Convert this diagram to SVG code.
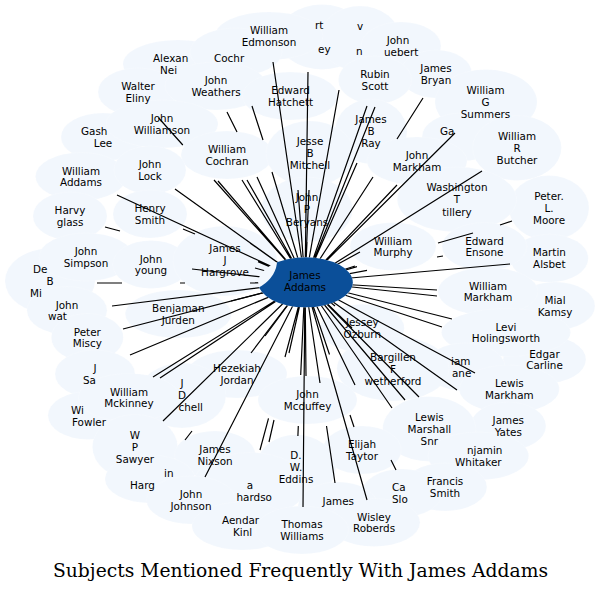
<svg xmlns="http://www.w3.org/2000/svg" width="602" height="592" viewBox="0 0 602 592">
<style>
.b{fill:#f2f7fd;stroke:#ffffff;stroke-width:0.5;stroke-opacity:0.35}
.l{font-family:"DejaVu Sans",sans-serif;font-size:10.4px;text-anchor:middle;fill:#000}
.f{font-family:"DejaVu Sans",sans-serif;font-size:10.4px;text-anchor:start;fill:#000}
.e{fill:none;stroke:#000;stroke-width:1.2}
.t{font-family:"DejaVu Serif",serif;font-size:18.67px;text-anchor:middle;fill:#000}
</style>
<defs>
<mask id="cm" maskUnits="userSpaceOnUse" x="0" y="0" width="602" height="592">
<rect x="0" y="0" width="602" height="592" fill="#fff"/>
<ellipse cx="305.5" cy="282.3" rx="47.3" ry="25" fill="#000"/>
</mask>
<mask id="notch" maskUnits="userSpaceOnUse" x="0" y="0" width="602" height="592">
<rect x="0" y="0" width="602" height="592" fill="#fff"/>
<ellipse cx="225" cy="261" rx="52" ry="35" fill="#000"/>
</mask>
</defs>
<rect width="602" height="592" fill="#ffffff"/>
<g id="backdrop">
<ellipse class="b" cx="322" cy="37" rx="44" ry="32.5"/>
<ellipse class="b" cx="360" cy="38.5" rx="40" ry="32.5"/>
<ellipse class="b" cx="269" cy="36" rx="54" ry="24"/>
<ellipse class="b" cx="401" cy="46" rx="40" ry="24"/>
<ellipse class="b" cx="178" cy="64" rx="55" ry="24"/>
<ellipse class="b" cx="236" cy="52" rx="46" ry="24"/>
<ellipse class="b" cx="436" cy="74" rx="36" ry="24"/>
<ellipse class="b" cx="138" cy="92" rx="40" ry="24"/>
<ellipse class="b" cx="216" cy="86" rx="51" ry="24"/>
<ellipse class="b" cx="375" cy="80" rx="36.6" ry="24"/>
<ellipse class="b" cx="290" cy="96" rx="47.6" ry="24"/>
<ellipse class="b" cx="486" cy="102" rx="51" ry="32.5"/>
<ellipse class="b" cx="103" cy="137" rx="42" ry="24"/>
<ellipse class="b" cx="162" cy="124" rx="56" ry="24"/>
<ellipse class="b" cx="462" cy="137" rx="40" ry="24"/>
<ellipse class="b" cx="371" cy="131.5" rx="36" ry="32.5"/>
<ellipse class="b" cx="517" cy="148" rx="44.4" ry="32.5"/>
<ellipse class="b" cx="227" cy="155" rx="46" ry="24"/>
<ellipse class="b" cx="310" cy="153.5" rx="44" ry="32.5"/>
<ellipse class="b" cx="417" cy="161" rx="50" ry="24"/>
<ellipse class="b" cx="81" cy="176.5" rx="45.5" ry="24"/>
<ellipse class="b" cx="150" cy="170" rx="36" ry="24"/>
<ellipse class="b" cx="549" cy="208" rx="40" ry="32.5"/>
<ellipse class="b" cx="457" cy="199.5" rx="59.7" ry="32.5"/>
<ellipse class="b" cx="70" cy="216" rx="37" ry="24"/>
<ellipse class="b" cx="150" cy="214" rx="37" ry="24"/>
<ellipse class="b" cx="307" cy="209.5" rx="45.5" ry="32.5"/>
<ellipse class="b" cx="549.3" cy="258.3" rx="39" ry="24"/>
<ellipse class="b" cx="484.5" cy="246.5" rx="42.4" ry="24"/>
<ellipse class="b" cx="393" cy="246.5" rx="43" ry="24"/>
<ellipse class="b" cx="50" cy="281" rx="45" ry="32.5"/>
<ellipse class="b" cx="86" cy="257" rx="47" ry="24"/>
<ellipse class="b" cx="151" cy="264.5" rx="38.3" ry="24"/>
<ellipse class="b" cx="225" cy="261" rx="52" ry="35"/>
<ellipse class="b" cx="555" cy="306" rx="40" ry="24"/>
<ellipse class="b" cx="488" cy="291.5" rx="50" ry="24"/>
<ellipse class="b" cx="67" cy="310.5" rx="40" ry="24"/>
<ellipse class="b" cx="178.3" cy="314" rx="53" ry="24"/>
<ellipse class="b" cx="87.3" cy="337.5" rx="36" ry="24"/>
<ellipse class="b" cx="544.5" cy="359.5" rx="41.4" ry="24"/>
<ellipse class="b" cx="506" cy="332.5" rx="64.5" ry="24"/>
<ellipse class="b" cx="362.3" cy="328.3" rx="42" ry="24"/>
<ellipse class="b" cx="465" cy="367" rx="40" ry="24"/>
<ellipse class="b" cx="95" cy="374" rx="40" ry="24"/>
<ellipse class="b" cx="393" cy="368.5" rx="56" ry="32.5"/>
<ellipse class="b" cx="237" cy="374" rx="50" ry="24"/>
<ellipse class="b" cx="509.3" cy="389" rx="50" ry="24"/>
<ellipse class="b" cx="88" cy="415.5" rx="40" ry="24"/>
<ellipse class="b" cx="182" cy="395.5" rx="44" ry="32.5"/>
<ellipse class="b" cx="129" cy="397.5" rx="50.6" ry="24"/>
<ellipse class="b" cx="307.5" cy="400" rx="49.5" ry="24"/>
<ellipse class="b" cx="508.3" cy="426" rx="37.6" ry="24"/>
<ellipse class="b" cx="429.3" cy="429" rx="46.6" ry="32.5"/>
<ellipse class="b" cx="135" cy="447" rx="42.6" ry="32.5"/>
<ellipse class="b" cx="478.3" cy="456" rx="50.4" ry="24"/>
<ellipse class="b" cx="362" cy="450" rx="39.3" ry="24"/>
<ellipse class="b" cx="215" cy="455" rx="40.4" ry="24"/>
<ellipse class="b" cx="150" cy="479" rx="45" ry="24"/>
<ellipse class="b" cx="296" cy="467.3" rx="40" ry="32.5"/>
<ellipse class="b" cx="250" cy="485" rx="57" ry="32.5"/>
<ellipse class="b" cx="445" cy="487" rx="41.9" ry="24"/>
<ellipse class="b" cx="402" cy="493" rx="40" ry="24"/>
<ellipse class="b" cx="191" cy="500" rx="44.5" ry="24"/>
<ellipse class="b" cx="338" cy="506" rx="40" ry="24"/>
<ellipse class="b" cx="242" cy="526" rx="50" ry="24"/>
<ellipse class="b" cx="374" cy="522.5" rx="46" ry="24"/>
<ellipse class="b" cx="302" cy="530" rx="46.6" ry="24"/>
</g>
<g id="node-william-edmonson"><text class="l"><tspan x="269" y="34">William</tspan><tspan x="269" y="45.8">Edmonson</tspan></text></g>
<g id="node-rt-ey"><text class="f" x="315" y="29">rt</text><text class="f" x="318" y="53">ey</text></g>
<g id="node-v-n"><text class="f" x="357" y="30">v</text><text class="f" x="356" y="55">n</text></g>
<g id="node-cochr"><text class="f" x="214" y="62">Cochr</text></g>
<g id="node-alexan-nei"><text class="f" x="153" y="62">Alexan</text><text class="f" x="160" y="74">Nei</text></g>
<g id="node-john-uebert"><text class="l" x="398" y="44.4">John</text><text class="f" x="384" y="56.2">uebert</text></g>
<g id="node-james-bryan"><text class="l"><tspan x="436" y="72.2">James</tspan><tspan x="436" y="84">Bryan</tspan></text></g>
<g id="node-walter-eliny"><text class="l"><tspan x="138" y="90">Walter</tspan><tspan x="138" y="102">Eliny</tspan></text></g>
<g id="node-john-weathers"><text class="l"><tspan x="216" y="84">John</tspan><tspan x="216" y="95.8">Weathers</tspan></text></g>
<g id="node-edward-hatchett"><text class="l"><tspan x="290.5" y="94">Edward</tspan><tspan x="290.5" y="105.8">Hatchett</tspan></text></g>
<g id="node-rubin-scott"><text class="l"><tspan x="375" y="78">Rubin</tspan><tspan x="375" y="90">Scott</tspan></text></g>
<g id="node-william-g-summers"><text class="l"><tspan x="485.5" y="94">William</tspan><tspan x="485.5" y="106">G</tspan><tspan x="485.5" y="118">Summers</tspan></text></g>
<g id="node-john-williamson"><text class="l"><tspan x="162" y="122">John</tspan><tspan x="162" y="134">Williamson</tspan></text></g>
<g id="node-james-b-ray"><text class="l"><tspan x="371" y="123">James</tspan><tspan x="371" y="135">B</tspan><tspan x="371" y="147">Ray</tspan></text></g>
<g id="node-gash-lee"><text class="f" x="81" y="134.6">Gash</text><text class="l" x="103" y="146.6">Lee</text></g>
<g id="node-william-cochran"><text class="l"><tspan x="227" y="153">William</tspan><tspan x="227" y="165">Cochran</tspan></text></g>
<g id="node-jesse-b-mitchell"><text class="l"><tspan x="310" y="145.4">Jesse</tspan><tspan x="310" y="157.2">B</tspan><tspan x="310" y="169">Mitchell</tspan></text></g>
<g id="node-ga"><text class="f" x="440" y="135">Ga</text></g>
<g id="node-william-r-butcher"><text class="l"><tspan x="517" y="140">William</tspan><tspan x="517" y="152">R</tspan><tspan x="517" y="164">Butcher</tspan></text></g>
<g id="node-john-markham"><text class="l"><tspan x="417" y="159">John</tspan><tspan x="417" y="170.8">Markham</tspan></text></g>
<g id="node-william-addams"><text class="l"><tspan x="81" y="174.6">William</tspan><tspan x="81" y="186.4">Addams</tspan></text></g>
<g id="node-john-lock"><text class="l"><tspan x="150" y="168">John</tspan><tspan x="150" y="179.8">Lock</tspan></text></g>
<g id="node-washington-t-tillery"><text class="l"><tspan x="457" y="191.4">Washington</tspan><tspan x="457" y="203.4">T</tspan><tspan x="457" y="215.6">tillery</tspan></text></g>
<g id="node-peter-l-moore"><text class="l"><tspan x="549" y="200">Peter.</tspan><tspan x="549" y="212.2">L.</tspan><tspan x="549" y="224.2">Moore</tspan></text></g>
<g id="node-harvy-glass"><text class="l"><tspan x="70" y="214">Harvy</tspan><tspan x="70" y="225.8">glass</tspan></text></g>
<g id="node-henry-smith"><text class="l"><tspan x="150" y="212.3">Henry</tspan><tspan x="150" y="224.1">Smith</tspan></text></g>
<g id="node-john-p-beryans"><text class="l"><tspan x="307" y="201.2">John</tspan><tspan x="307" y="213.2">P</tspan><tspan x="307" y="225.6">Beryans</tspan></text></g>
<g id="node-william-murphy"><text class="l"><tspan x="393" y="244.6">William</tspan><tspan x="393" y="256.4">Murphy</tspan></text></g>
<g id="node-edward-ensone"><text class="l"><tspan x="484.5" y="244.6">Edward</tspan><tspan x="484.5" y="256.4">Ensone</tspan></text></g>
<g id="node-martin-alsbet"><text class="l"><tspan x="549.3" y="256.2">Martin</tspan><tspan x="549.3" y="268.2">Alsbet</tspan></text></g>
<g id="node-james-j-hargrove"><text class="l"><tspan x="225" y="252.2">James</tspan><tspan x="225" y="264">J</tspan><tspan x="225" y="275.8">Hargrove</tspan></text></g>
<g id="node-john-simpson"><text class="l"><tspan x="86" y="255">John</tspan><tspan x="86" y="266.8">Simpson</tspan></text></g>
<g id="node-john-young"><text class="l"><tspan x="151" y="262.6">John</tspan><tspan x="151" y="274.4">young</tspan></text></g>
<g id="node-de-b-mi"><text class="f" x="33" y="273">De</text><text class="l" x="50" y="284.8">B</text><text class="f" x="30" y="296.6">Mi</text></g>
<g id="node-william-markham"><text class="l"><tspan x="488" y="289.6">William</tspan><tspan x="488" y="301.4">Markham</tspan></text></g>
<g id="node-mial-kamsy"><text class="l"><tspan x="555" y="304">Mial</tspan><tspan x="555" y="315.8">Kamsy</tspan></text></g>
<g id="node-john-wat"><text class="l" x="67" y="308.6">John</text><text class="f" x="48" y="320.4">wat</text></g>
<g id="node-benjaman-jurden"><text class="l"><tspan x="178.3" y="312.2">Benjaman</tspan><tspan x="178.3" y="324">Jurden</tspan></text></g>
<g id="node-jessey-ozburn"><text class="l"><tspan x="362.3" y="326.4">Jessey</tspan><tspan x="362.3" y="338.2">Ozburn</tspan></text></g>
<g id="node-levi-holingsworth"><text class="l"><tspan x="506" y="330.6">Levi</tspan><tspan x="506" y="342.4">Holingsworth</tspan></text></g>
<g id="node-peter-miscy"><text class="l"><tspan x="87.3" y="335.6">Peter</tspan><tspan x="87.3" y="347.4">Miscy</tspan></text></g>
<g id="node-edgar-carline"><text class="l"><tspan x="544.5" y="357.6">Edgar</tspan><tspan x="544.5" y="369.4">Carline</tspan></text></g>
<g id="node-iam-ane"><text class="f" x="451" y="365.2">iam</text><text class="f" x="452" y="377">ane</text></g>
<g id="node-j-sa"><text class="l" x="95" y="372.2">J</text><text class="f" x="83" y="384">Sa</text></g>
<g id="node-bargillen-f-wetherford"><text class="l"><tspan x="393" y="360.6">Bargillen</tspan><tspan x="393" y="372.6">F</tspan><tspan x="393" y="384.6">wetherford</tspan></text></g>
<g id="node-hezekiah-jordan"><text class="l"><tspan x="237" y="372.2">Hezekiah</tspan><tspan x="237" y="384">Jordan</tspan></text></g>
<g id="node-lewis-markham"><text class="l"><tspan x="509.3" y="387">Lewis</tspan><tspan x="509.3" y="398.8">Markham</tspan></text></g>
<g id="node-william-mckinney"><text class="l"><tspan x="129" y="395.6">William</tspan><tspan x="129" y="407.4">Mckinney</tspan></text></g>
<g id="node-j-d-chell"><text class="l" x="182" y="387.4">J</text><text class="l" x="182" y="399.4">D</text><text class="l" x="203" y="411.4" style="text-anchor:end">chell</text></g>
<g id="node-john-mcduffey"><text class="l"><tspan x="307.5" y="397.6">John</tspan><tspan x="307.5" y="409.6">Mcduffey</tspan></text></g>
<g id="node-wi-fowler"><text class="f" x="71" y="413.8">Wi</text><text class="f" x="72" y="425.6">Fowler</text></g>
<g id="node-lewis-marshall-snr"><text class="l"><tspan x="429.3" y="421.2">Lewis</tspan><tspan x="429.3" y="433.2">Marshall</tspan><tspan x="429.3" y="445">Snr</tspan></text></g>
<g id="node-james-yates"><text class="l"><tspan x="508.3" y="424">James</tspan><tspan x="508.3" y="435.8">Yates</tspan></text></g>
<g id="node-w-p-sawyer"><text class="l"><tspan x="135" y="439">W</tspan><tspan x="135" y="451">P</tspan><tspan x="135" y="463.2">Sawyer</tspan></text></g>
<g id="node-elijah-taytor"><text class="l"><tspan x="362" y="448">Elijah</tspan><tspan x="362" y="460">Taytor</tspan></text></g>
<g id="node-james-nixson"><text class="l"><tspan x="215" y="453.2">James</tspan><tspan x="215" y="465">Nixson</tspan></text></g>
<g id="node-benjamin-whitaker"><text class="f" x="467" y="453.8">njamin</text><text class="l" x="478.3" y="465.6">Whitaker</text></g>
<g id="node-d-w-eddins"><text class="l"><tspan x="296" y="459.4">D.</tspan><tspan x="296" y="471.2">W.</tspan><tspan x="296" y="483">Eddins</tspan></text></g>
<g id="node-in-harg"><text class="f" x="164" y="477">in</text><text class="f" x="130" y="489">Harg</text></g>
<g id="node-a-hardso"><text class="l" x="250" y="488.8">a</text><text class="f" x="236.5" y="500.6">hardso</text></g>
<g id="node-francis-smith"><text class="l"><tspan x="445" y="484.8">Francis</tspan><tspan x="445" y="496.6">Smith</tspan></text></g>
<g id="node-ca-slo"><text class="f" x="392" y="490.6">Ca</text><text class="f" x="392" y="503">Slo</text></g>
<g id="node-john-johnson"><text class="l"><tspan x="191" y="498.2">John</tspan><tspan x="191" y="510">Johnson</tspan></text></g>
<g id="node-james"><text class="l" x="338.3" y="504.6">James</text></g>
<g id="node-wisley-roberds"><text class="l"><tspan x="374" y="520.6">Wisley</tspan><tspan x="374" y="532.4">Roberds</tspan></text></g>
<g id="node-aendar-kinl"><text class="f" x="222" y="524.4">Aendar</text><text class="f" x="233" y="536.2">Kinl</text></g>
<g id="node-thomas-williams"><text class="l"><tspan x="302" y="528.2">Thomas</tspan><tspan x="302" y="540">Williams</tspan></text></g>
<g id="connectors" class="e" mask="url(#cm)">
<path class="e" d="M305,282L273,62M305,282L308,72M305,282L339,90M305,282L367,106M305,282L375,107M305,282L357,163"/>
<path class="e" d="M423,98L397,139M373,177L305,282M305,282L455,133M305,282L397,185M305,282L482,171"/>
<path class="e" d="M305,282L357,266.7M438,243L473,233M500,225L512,221M305,282L367,270.3M437,257L443,256"/>
<path class="e" d="M305,282L510,264M305,282L437,290M305,282L437,296M305,282L452,319M305,282L442,327M305,282L475,373"/>
<path class="e" d="M305,282L457,390M305,282L419,397M305,282L405,400M305,282L392,408M305,282L355,385M391,460L396,470"/>
<path class="e" d="M305,282L329.5,354.5M350,415L354,427M305,282L367,500M305,282L320,383M326.5,426L335,483M305,282L303,507"/>
<path class="e" d="M305,282L300.7,375M298.3,426L297.9,436M305,282L306,376M305,282L285,357M268.5,418.3L260,450M305,282L289,353M274,420L269,442"/>
<path class="e" d="M305,282L205,477M305,282L163,421M305,282L251,353M192,431L185,440M305,282L153,377M305,282L160,378"/>
<path class="e" d="M305,282L130,355M305,282L123,329M305,282L112,306M305,282L250,283M185,283L180,283M122,283L97,283M305,282L192,269"/>
<path class="e" d="M305,282L258,261.6M195,234L183,229M305,282L255,268M120,231L105,227M305,282L117,195M305,282L175,189M305,282L250,243"/>
<path class="e" d="M305,282L214,180M182.8,145L158.7,118M305,282L218,181M305,282L242,180M305,282L247,180"/>
<path class="e" d="M305,282L257,177M237,132L227,112M305,282L272,172M263,140L252,106"/>
<path class="e" d="M305,282L298,190M305,282L309,190M305,282L307,242M305,282L355,266M305,282L231,301M305,282L335,306M305,282L352,328M305,282L265,336M305,282L360,252"/>
</g>
<g id="node-james-addams">
<ellipse cx="305.5" cy="282.3" rx="47.3" ry="25" fill="#0b4f99" mask="url(#notch)"/>
<text class="l"><tspan x="305" y="279.4">James</tspan><tspan x="305" y="291.2">Addams</tspan></text>
</g>
<text class="t" x="300.5" y="577" textLength="495" lengthAdjust="spacingAndGlyphs">Subjects Mentioned Frequently With James Addams</text>
</svg>
